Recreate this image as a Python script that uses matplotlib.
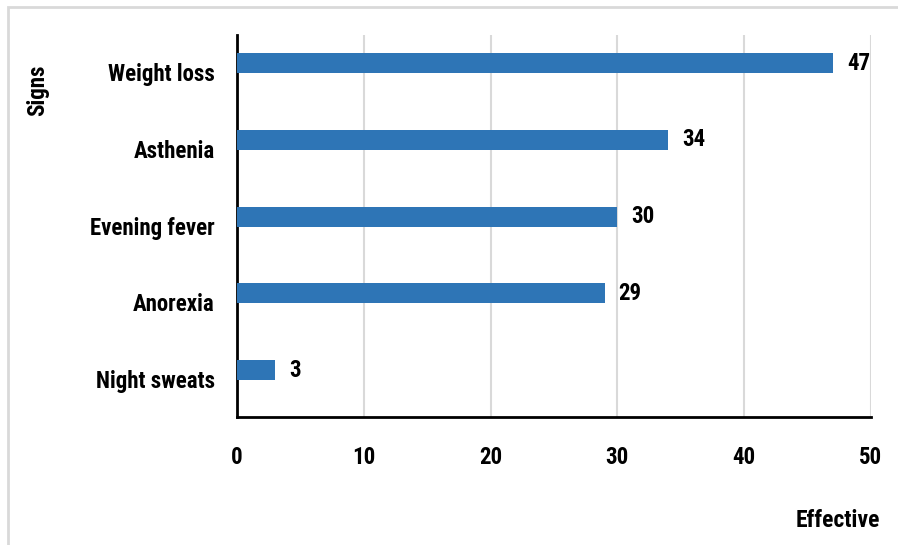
import matplotlib.pyplot as plt
import matplotlib.transforms as mtransforms
from matplotlib.patches import Rectangle
from matplotlib import font_manager

signs = ["Weight loss", "Asthenia", "Evening fever", "Anorexia", "Night sweats"]
effective = [47, 34, 30, 29, 3]
xticks = [0, 10, 20, 30, 40, 50]

names = {f.name for f in font_manager.fontManager.ttflist}
fam = [n for n in ['Liberation Sans Narrow', 'Roboto Condensed', 'Open Sans Condensed',
                   'Noto Sans Condensed', 'DejaVu Sans'] if n in names]
plt.rcParams['font.family'] = fam + ['DejaVu Sans']
plt.rcParams['font.weight'] = 'bold'
plt.rcParams['font.stretch'] = 'condensed'
fs = 16.5

fig = plt.figure(figsize=(8.98, 5.45), dpi=100)
ax = fig.add_axes([0.2639, 0.2349, 0.7060, 0.7009])

ypos = list(range(len(signs)))
ax.barh(ypos, effective, height=0.26, color='#2E75B6', zorder=3)
ax.set_ylim(4.61, -0.365)
ax.set_xlim(0, 50)
ax.set_yticks(ypos)
ax.set_yticklabels(signs, fontsize=fs, fontweight='bold')
ax.set_xticks(xticks)
ax.set_xticklabels([str(t) for t in xticks], fontsize=fs, fontweight='bold')
ax.tick_params(axis='both', length=0)
ax.tick_params(axis='x', pad=21)
ax.tick_params(axis='y', pad=16)
# category labels sit a little below the bar centres
shift = mtransforms.ScaledTranslation(0, -9 / 100, fig.dpi_scale_trans)
for lab in ax.get_yticklabels():
    lab.set_transform(lab.get_transform() + shift)

ax.grid(axis='x', color='#D9D9D9', linewidth=1.5, zorder=0)
for s in ['top', 'right']:
    ax.spines[s].set_visible(False)
for s in ['left', 'bottom']:
    ax.spines[s].set_linewidth(2)
    ax.spines[s].set_color('black')

for y, v in zip(ypos, effective):
    ax.annotate(str(v), (v, y), xytext=(10, 0), textcoords='offset points',
                va='center', ha='left', fontsize=fs, fontweight='bold')

fig.text(0.042, 0.835, "Signs", rotation=90, ha='center', va='center',
         fontsize=fs, fontweight='bold')
fig.text(0.98, 0.045, "Effective", ha='right', va='center',
         fontsize=17, fontweight='bold')

fig.patches.append(Rectangle((0.009, -0.1), 1.1, 1.087, transform=fig.transFigure,
                             fill=False, edgecolor='#D9D9D9', linewidth=2))

fig.savefig('out.png', dpi=100)
